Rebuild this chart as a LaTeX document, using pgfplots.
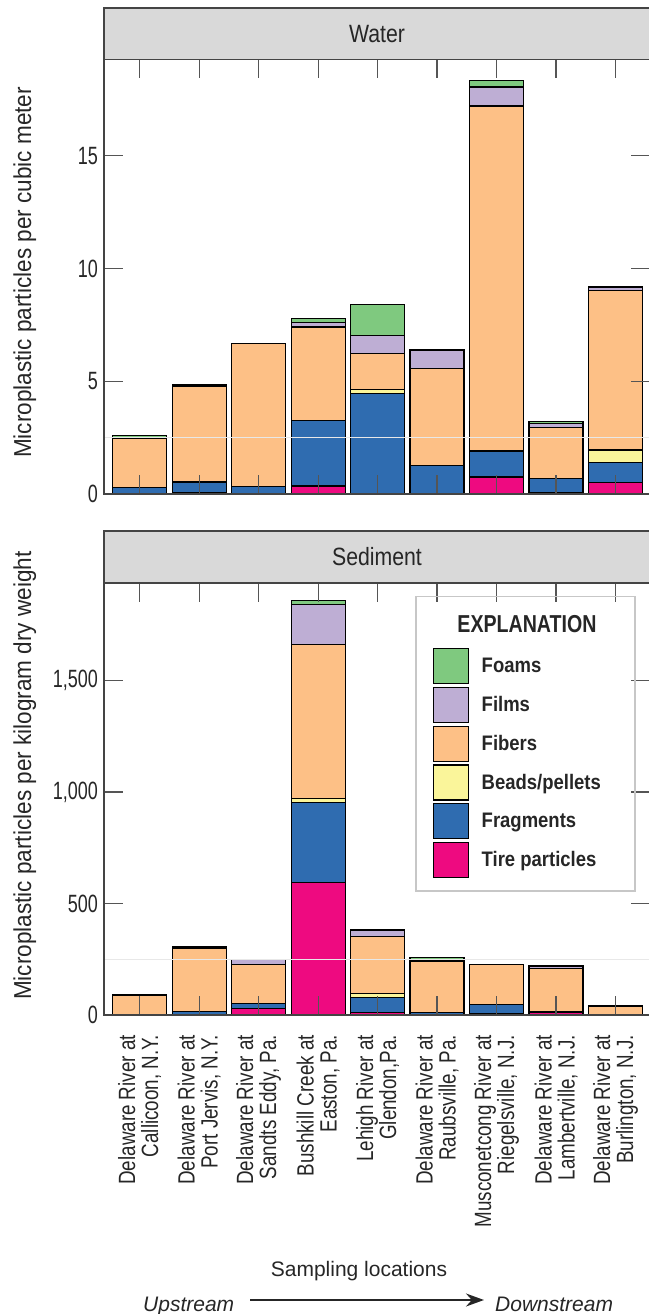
\documentclass[border=0pt]{standalone}
\usepackage{fontspec}
\setmainfont{Liberation Sans}
\newfontfamily\numfont[FakeStretch=0.72]{Liberation Sans}
\newfontfamily\catfont[FakeStretch=0.8]{Liberation Sans}
\newfontfamily\labfont[FakeStretch=0.92]{Liberation Sans}
\newfontfamily\stripfont[FakeStretch=0.85]{Liberation Sans}
\newfontfamily\legfont[FakeStretch=0.88]{Liberation Sans}
\newfontfamily\legtitlefont[FakeStretch=0.8]{Liberation Sans}
\usepackage{pgfplots}
\pgfplotsset{compat=1.18}
\usepackage{pgfplotstable}
\usetikzlibrary{arrows.meta}

\definecolor{cfoam}{HTML}{7FC97F}
\definecolor{cfilm}{HTML}{BEAED4}
\definecolor{cfiber}{HTML}{FDC086}
\definecolor{cbead}{HTML}{FAF59A}
\definecolor{cfrag}{HTML}{2F6CB0}
\definecolor{ctire}{HTML}{EE0A80}
\definecolor{stripgray}{HTML}{D9D9D9}
\definecolor{axisgray}{HTML}{444444}
\definecolor{tickgray}{HTML}{555555}

\pgfplotstableread{
x tire frag beads fibers films foams
0 0.00 0.30 0.00 2.17 0.05 0.08
1 0.05 0.48 0.00 4.23 0.06 0.04
2 0.00 0.32 0.00 6.34 0.00 0.00
3 0.35 2.91 0.00 4.15 0.21 0.18
4 0.03 4.43 0.18 1.59 0.79 1.38
5 0.00 1.27 0.00 4.31 0.80 0.03
6 0.75 1.12 0.05 15.29 0.84 0.28
7 0.06 0.62 0.00 2.26 0.19 0.10
8 0.50 0.89 0.56 7.09 0.12 0.06
}\water

\pgfplotstableread{
x tire frag beads fibers films foams
0 0 0 0 90 0 0
1 0 14 0 286 4 3
2 28 24 0 176 20 0
3 596 357 18 691 180 18
4 10 70 18 253 30 0
5 0 12 0 227 6 12
6 7 41 0 180 0 0
7 10 7 0 192 7 5
8 0 0 0 37 3 3
}\sediment

\pgfplotsset{panel/.style={
  width=546bp, scale only axis,
  xmin=-0.6, xmax=8.58, ymin=0,
  ybar stacked, bar width=54bp,
  xtick={0,...,8},
  tick align=inside, major tick length=19bp,
  xtick pos=both, ytick pos=both,
  tick style={draw=tickgray, line width=1.2bp},
  axis line style={draw=axisgray, line width=1.4bp},
  axis on top,
  yticklabel style={font=\fontsize{25bp}{25bp}\numfont, inner sep=0pt, xshift=-6bp, text=black!85},
  /pgf/number format/assume math mode=true,
  /pgf/number format/1000 sep={,},
  every axis plot/.append style={draw=black, line width=1.2bp},
  every axis plot post/.append style={legend image code/.code={\draw[##1, line width=1.2bp] (0bp,-17.5bp) rectangle (35bp,17.5bp);}},
}}

\begin{document}
\begin{tikzpicture}

% ---------- Water ----------
\begin{axis}[panel, name=top, at={(104bp,820bp)}, anchor=south west,
  height=434.7bp, ymax=19.28, ytick={0,5,10,15}, xticklabels={}]
\draw[draw=gray!18, line width=1bp] (axis cs:-0.6,2.5) -- (axis cs:8.58,2.5);
\addplot[fill=ctire] table[x=x,y=tire]{\water};
\addplot[fill=cfrag] table[x=x,y=frag]{\water};
\addplot[fill=cbead] table[x=x,y=beads]{\water};
\addplot[fill=cfiber] table[x=x,y=fibers]{\water};
\addplot[fill=cfilm] table[x=x,y=films]{\water};
\addplot[fill=cfoam] table[x=x,y=foams]{\water};
\end{axis}
\draw[fill=stripgray, draw=axisgray, line width=1.4bp] (top.north west) rectangle ([yshift=51.3bp]top.north east);
\node[font=\fontsize{25bp}{25bp}\stripfont, text=black!85] at ([yshift=25.6bp]top.north) {Water};

% ---------- Sediment ----------
\begin{axis}[panel, name=bot, at={(104bp,299bp)}, anchor=south west,
  height=432bp, ymax=1938, ytick={0,500,1000,1500},
  xticklabels={{Delaware River at\\Callicoon, N.Y.},
               {Delaware River at\\Port Jervis, N.Y.},
               {Delaware River at\\Sandts Eddy, Pa.},
               {Bushkill Creek at\\Easton, Pa.},
               {Lehigh River at\\Glendon,Pa.},
               {Delaware River at\\Raubsville, Pa.},
               {Musconetcong River at\\Riegelsville, N.J.},
               {Delaware River at\\Lambertville, N.J.},
               {Delaware River at\\Burlington, N.J.}},
  xticklabel pos=lower,
  xticklabel style={rotate=90, anchor=east, align=right, inner sep=0pt,
     font=\fontsize{23.5bp}{23bp}\catfont, text=black!85},
  xticklabel shift=20bp,
  reverse legend,
  legend cell align=left,
  legend style={at={(rel axis cs:0.6013,0.8502)}, anchor=north west,
     draw=none, fill=none, inner sep=0pt, row sep=2.6bp, column sep=13bp,
     font=\fontsize{21bp}{21bp}\legfont\bfseries, text=black!85, nodes={inner sep=0pt}},
  ]
\draw[draw=gray!18, line width=1bp] (axis cs:-0.6,250) -- (axis cs:8.58,250);
\addplot[fill=ctire] table[x=x,y=tire]{\sediment};
\addplot[fill=cfrag] table[x=x,y=frag]{\sediment};
\addplot[fill=cbead] table[x=x,y=beads]{\sediment};
\addplot[fill=cfiber] table[x=x,y=fibers]{\sediment};
\addplot[fill=cfilm] table[x=x,y=films]{\sediment};
\addplot[fill=cfoam] table[x=x,y=foams]{\sediment};
\legend{Tire particles, Fragments, Beads/pellets, Fibers, Films, Foams}
\end{axis}
\draw[fill=stripgray, draw=axisgray, line width=1.4bp] (bot.north west) rectangle ([yshift=52bp]bot.north east);
\node[font=\fontsize{25bp}{25bp}\stripfont, text=black!85] at ([yshift=26bp]bot.north) {Sediment};

% legend frame and title
\draw[draw=black!22, line width=1.2bp] (416bp,423bp) rectangle (635bp,717.3bp);
\node[anchor=base, inner sep=0pt, font=\fontsize{24.5bp}{24bp}\legtitlefont\bfseries, text=black!85] at (527bp,681.3bp) {EXPLANATION};

% axis titles
\node[rotate=90, anchor=base west, inner sep=0pt, font=\fontsize{24.5bp}{24bp}\labfont, text=black!85] at (31bp,856bp) {Microplastic particles per cubic meter};
\node[rotate=90, anchor=base west, inner sep=0pt, font=\fontsize{24.5bp}{24bp}\labfont, text=black!85] at (31bp,314bp) {Microplastic particles per kilogram dry weight};

\node[anchor=base, inner sep=0pt, font=\fontsize{21bp}{21bp}\selectfont, text=black!85] at (359bp,37.3bp) {Sampling locations};
\node[anchor=base west, inner sep=0pt, font=\fontsize{21bp}{21bp}\itshape, text=black!85] at (143bp,3bp) {Upstream};
\node[anchor=base west, inner sep=0pt, font=\fontsize{21bp}{21bp}\itshape, text=black!85] at (495bp,3bp) {Downstream};
\draw[-{Stealth[length=18bp,width=13bp]}, line width=1.6bp, black!85] (250bp,14bp) -- (484bp,14bp);

\pgfresetboundingbox
\path[use as bounding box] (0,0) rectangle (649bp,1314bp);
\end{tikzpicture}
\end{document}
